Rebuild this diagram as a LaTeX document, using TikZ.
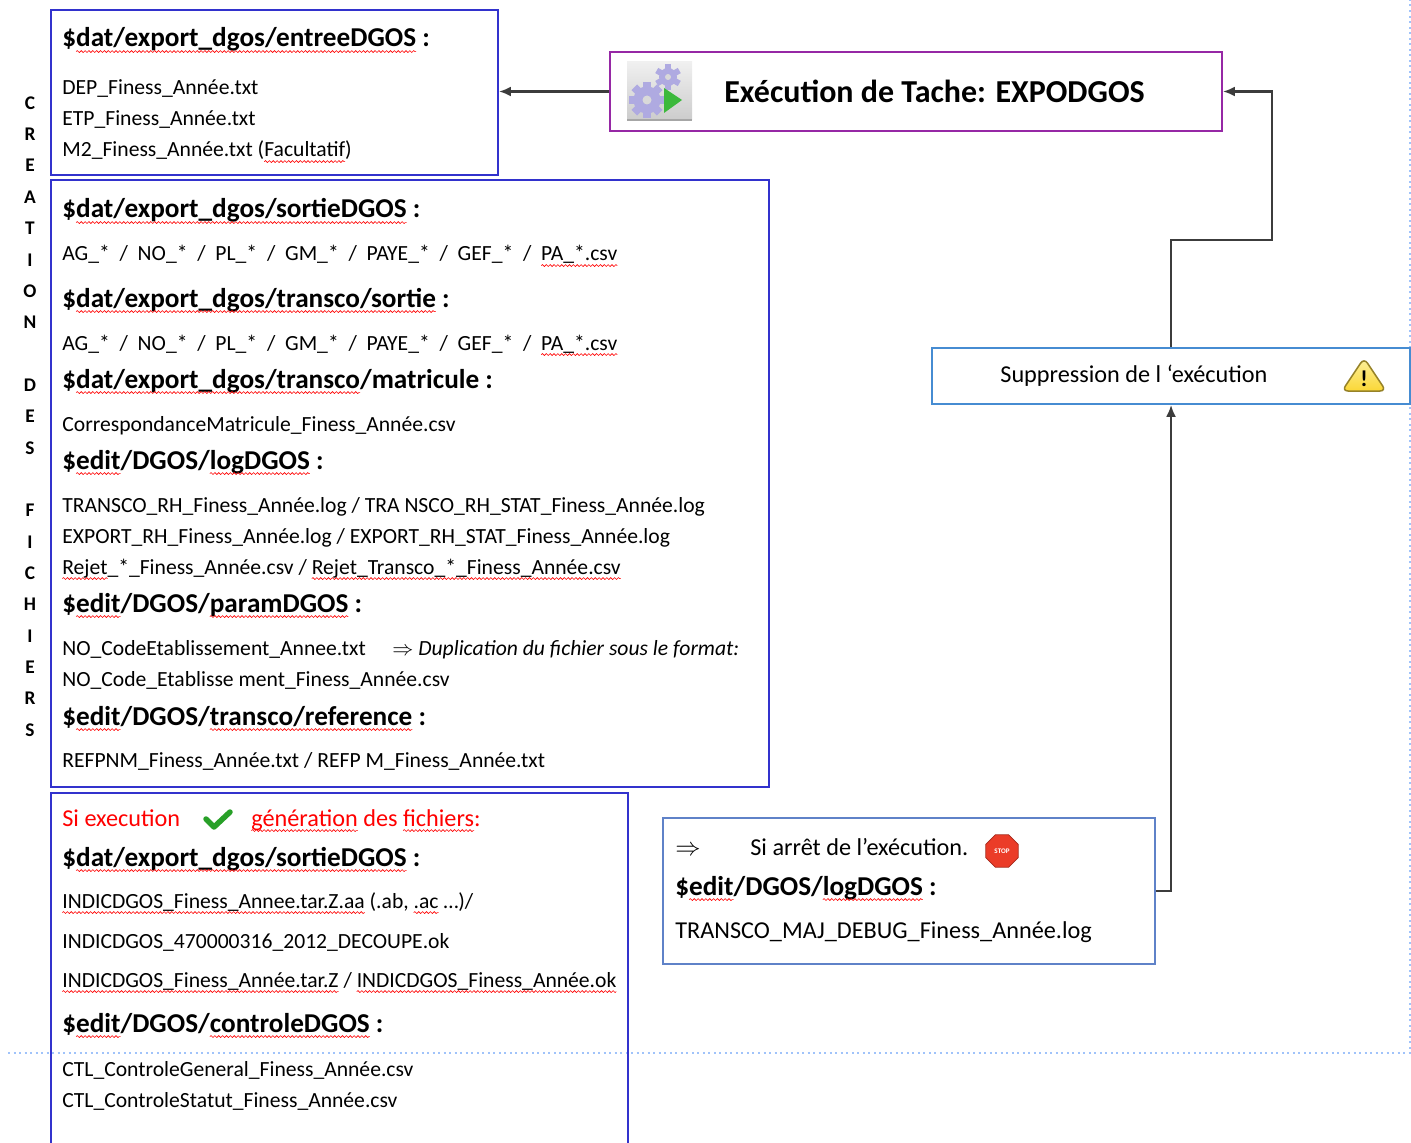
\documentclass[tikz,border=0pt]{standalone}
\usepackage{fontspec}
\setmainfont{Carlito}
\usetikzlibrary{arrows.meta,shapes.geometric,fit,decorations.pathmorphing}
\definecolor{boxblue}{RGB}{50,50,205}
\definecolor{execpurple}{RGB}{150,40,165}
\definecolor{suppblue}{RGB}{70,140,210}
\definecolor{stopblue}{RGB}{95,130,200}
\definecolor{dotblue}{RGB}{160,195,250}
\definecolor{arrowgray}{RGB}{60,60,60}
\definecolor{gearcol}{RGB}{175,170,225}
\definecolor{playgreen}{RGB}{60,185,60}
\definecolor{checkgreen}{RGB}{40,160,40}
\definecolor{stopred}{RGB}{235,60,40}
\definecolor{warnyellow}{RGB}{250,225,60}
\definecolor{warnedge}{RGB}{150,130,40}
\tikzset{spellwave/.style={draw=red,line width=0.35pt,decorate,decoration={snake,amplitude=0.55pt,segment length=2.2pt}}}
\newsavebox\spellbox
\newcommand\spell[1]{\sbox\spellbox{#1}\usebox\spellbox\tikz[overlay,baseline=0pt]\draw[spellwave] (-\wd\spellbox,-2.6pt) -- (0pt,-2.6pt);}
\begin{document}
\begin{tikzpicture}[x=0.2mm,y=-0.2mm,
  filebox/.style={draw=boxblue,line width=0.35mm,inner sep=0pt},
  head/.style={anchor=base west,inner sep=0pt,font=\bfseries\fontsize{15.5}{18}\selectfont},
  file/.style={anchor=base west,inner sep=0pt,font=\fontsize{12.3}{14}\selectfont},
  big/.style={anchor=base west,inner sep=0pt,font=\fontsize{13.8}{16}\selectfont},
  letter/.style={inner sep=0pt,font=\bfseries\fontsize{11}{13}\selectfont},
  flow/.style={-{Latex[length=2.4mm,width=2mm]},line width=0.45mm,draw=arrowgray}]
\clip (0,0) rectangle (1411,1142);
% page edges
\draw[dotblue,dotted,line width=0.4mm] (8,1053) -- (1410,1053) -- (1410,0);
% boxes
\node[filebox,fit={(51,10) (498,175)}] (entree) {};
\node[filebox,fit={(51,180) (769,787)}] (sortie) {};
\node[filebox,fit={(51,793) (628,1170)}] (generation) {};
\node[draw=execpurple,line width=0.35mm,inner sep=0pt,fit={(610,52) (1222,131)}] (exec) {};
\node[draw=suppblue,line width=0.35mm,inner sep=0pt,fit={(932,348) (1410,404)}] (supp) {};
\node[draw=stopblue,line width=0.35mm,inner sep=0pt,fit={(663,818) (1155,964)}] (arret) {};
% side title
\foreach \l [count=\i] in {C,R,E,A,T,I,O,N,,D,E,S,,F,I,C,H,I,E,R,S}
  \node[letter] (l\i) at (30,{103+(\i-1)*31.35}) {\l};
% task
\fill[top color=gray!12,bottom color=gray!40] (627,62) rectangle (692,120);
\draw[gray!70,line width=0.3mm] (627,120) -- (692,120);
\foreach \a in {0,45,...,315}
  \fill[gearcol,rotate around={\a:(647,100)}] (643,82) rectangle (651,89);
\fill[gearcol] (647,100) circle (13.5);
\fill[gray!30] (647,100) circle (4.5);
\foreach \a in {0,60,...,300}
  \fill[gearcol,rotate around={\a:(668,77)}] (665,64) rectangle (671,69);
\fill[gearcol] (668,77) circle (9);
\fill[gray!30] (668,77) circle (3);
\fill[playgreen] (664,88) -- (682,100) -- (664,113) -- cycle;
\node[anchor=base west,inner sep=0pt,font=\bfseries\fontsize{18.2}{21}\selectfont] (title) at (724,103) {Exécution de Tache: EXPODGOS};
% entree
\node[head] (entreeH) at (62,47) {\$\spell{dat/export\_dgos/entreeDGOS} :};
\node[file] (dep) at (62,95) {DEP\_Finess\_Année.txt};
\node[file] (etp) at (62,126) {ETP\_Finess\_Année.txt};
\node[file] (m2) at (62,157) {M2\_Finess\_Année.txt (\spell{Facultatif})};
% sortie
\node[head] (sortieH) at (62,218) {\$\spell{dat/export\_dgos/sortieDGOS} :};
\node[file] (ag1) at (62,261) {AG\_*~~/~~NO\_*~~/~~PL\_*~~/~~GM\_*~~/~~PAYE\_*~~/~~GEF\_*~~/~~\spell{PA\_*.csv}};
\node[head] (transcoH) at (62,307) {\$\spell{dat/export\_dgos/transco/sortie} :};
\node[file] (ag2) at (62,350) {AG\_*~~/~~NO\_*~~/~~PL\_*~~/~~GM\_*~~/~~PAYE\_*~~/~~GEF\_*~~/~~\spell{PA\_*.csv}};
\node[head] (matH) at (62,388) {\$\spell{dat/export\_dgos/transco}/matricule :};
\node[file] (corr) at (62,431) {CorrespondanceMatricule\_Finess\_Année.csv};
\node[head] (logH) at (62,469) {\$\spell{edit}/DGOS/\spell{logDGOS} :};
\node[file] (tr) at (62,512) {TRANSCO\_RH\_Finess\_Année.log / TRA NSCO\_RH\_STAT\_Finess\_Année.log};
\node[file] (ex) at (62,543) {EXPORT\_RH\_Finess\_Année.log / EXPORT\_RH\_STAT\_Finess\_Année.log};
\node[file] (rej) at (62,574) {\spell{Rejet}\_*\_Finess\_Année.csv / \spell{Rejet\_Transco\_*\_Finess\_Année.csv}};
\node[head] (paramH) at (62,612) {\$\spell{edit}/DGOS/\spell{paramDGOS} :};
\node[file] (nocode) at (62,655) {NO\_CodeEtablissement\_Annee.txt};
\node[file] (dup) at (392,655) {$\Rightarrow$ \textit{Duplication du fichier sous le format:}};
\node[file] (nocode2) at (62,686) {NO\_Code\_Etablisse ment\_Finess\_Année.csv};
\node[head] (refH) at (62,725) {\$\spell{edit}/DGOS/\spell{transco/reference} :};
\node[file] (refp) at (62,767) {REFPNM\_Finess\_Année.txt / REFP M\_Finess\_Année.txt};
% generation
\node[big,text=red] (siexec) at (62,826) {Si execution};
\draw[checkgreen,line width=1.1mm,line cap=round,line join=round] (206,819) -- (214,827) -- (230,812);
\node[big,text=red] (gen) at (251,826) {\spell{génération} des \spell{fichiers}:};
\node[head] (sortie2H) at (62,866) {\$\spell{dat/export\_dgos/sortieDGOS} :};
\node[file] (indic1) at (62,908) {\spell{INDICDGOS\_Finess\_Annee.tar.Z.aa} (.ab, \spell{.ac} …)/};
\node[file] (indic2) at (62,948) {INDICDGOS\_470000316\_2012\_DECOUPE.ok};
\node[file] (indic3) at (62,987) {\spell{INDICDGOS\_Finess\_Année.tar.Z} / \spell{INDICDGOS\_Finess\_Année.ok}};
\node[head] (ctlH) at (62,1032) {\$\spell{edit}/DGOS/\spell{controleDGOS} :};
\node[file] (ctl1) at (62,1076) {CTL\_ControleGeneral\_Finess\_Année.csv};
\node[file] (ctl2) at (62,1107) {CTL\_ControleStatut\_Finess\_Année.csv};
% suppression
\node[big] (suppT) at (1000,382) {Suppression de l ‘exécution};
\shadedraw[top color=warnyellow!50!white,bottom color=warnyellow!90!orange,draw=warnedge,line width=0.3mm,rounded corners=1.2mm] (1364,358) -- (1386,391) -- (1342,391) -- cycle;
\node[inner sep=0pt,font=\bfseries\fontsize{13}{13}\selectfont] (warnmark) at (1364,379) {!};
% arret
\node[big] (imp) at (675,855) {$\Rightarrow$};
\node[big] (siarret) at (750,855) {Si arrêt de l’exécution.};
\node[regular polygon,regular polygon sides=8,minimum size=7mm,inner sep=0pt,fill=stopred,draw=stopred!70!black,text=white,font=\bfseries\fontsize{4}{4}\selectfont] (stopsign) at (1002,851) {STOP};
\node[head] (logH2) at (675,895) {\$\spell{edit}/DGOS/\spell{logDGOS} :};
\node[big] (debug) at (675,938) {TRANSCO\_MAJ\_DEBUG\_Finess\_Année.log};
% connectors
\coordinate (bend) at (1272,240);
\draw[flow] (exec.west) -- (exec.west -| entree.east);
\draw[flow] (supp.north) |- (bend) |- (exec.east);
\draw[flow] (arret.east) -| (supp.south);
\end{tikzpicture}
\end{document}
